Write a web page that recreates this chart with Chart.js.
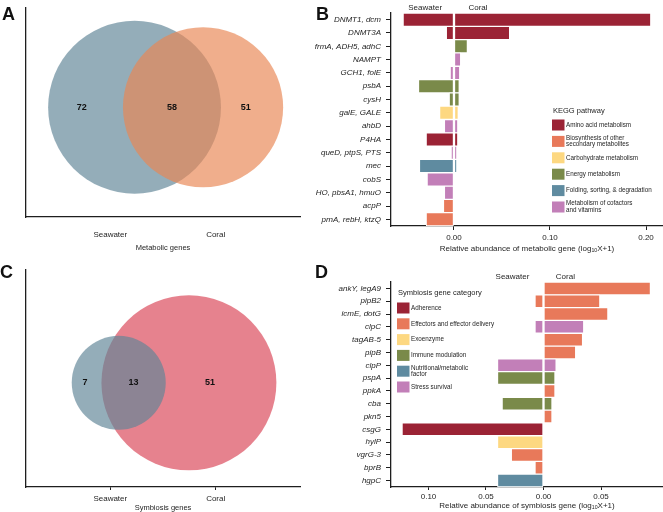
<!DOCTYPE html>
<html lang="en">
<head>
<meta charset="utf-8">
<title>Metabolic and symbiosis genes</title>
<script src="https://cdn.jsdelivr.net/npm/chart.js@4.4.1/dist/chart.umd.min.js"></script>
<style>
  html, body { margin: 0; padding: 0; background: #fff; }
  #figure { position: relative; width: 663px; height: 512px; overflow: hidden; }
  canvas { position: absolute; }
  .lettre { position: absolute; font: bold 18px "Liberation Sans", Arial, sans-serif; line-height: 18px; color: #111; }
</style>
</head>
<body>
<div id="figure">
  <canvas id="vennA" width="330" height="256" style="left:0;top:0"></canvas>
  <canvas id="vennC" width="330" height="262" style="left:0;top:250px"></canvas>
  <canvas id="barresB" width="363" height="256" style="left:300px;top:0"></canvas>
  <canvas id="barresD" width="363" height="262" style="left:300px;top:250px"></canvas>
  <div class="lettre" style="left:2px;top:5px">A</div>
  <div class="lettre" style="left:316px;top:5px">B</div>
  <div class="lettre" style="left:0px;top:263px">C</div>
  <div class="lettre" style="left:315px;top:263px">D</div>
</div>
<script>
// === DONNÉES ===
const groupes = ['Seawater', 'Coral'];

// Venn : seawater seul, commun, coral seul
const comptesA = [72, 58, 51];
const comptesC = [7, 13, 51];

// cercles en unités d'axe (Seawater = 1, Coral = 2)
const cerclesA = [
  { x: 1.23, y: 1.05, rayon: 0.82 },   // Seawater
  { x: 1.88, y: 1.05, rayon: 0.76 }    // Coral
];
const cerclesC = [
  { x: 1.08, y: 0.96, rayon: 0.446 },  // Seawater
  { x: 1.746, y: 0.96, rayon: 0.83 }   // Coral
];

// Panneau B : gènes métaboliques
const genesB = ['DNMT1, dcm', 'DNMT3A', 'frmA, ADH5, adhC', 'NAMPT', 'GCH1, folE', 'psbA', 'cysH',
  'galE, GALE', 'ahbD', 'P4HA', 'queD, ptpS, PTS', 'mec', 'cobS', 'HO, pbsA1, hmuO', 'acpP', 'prnA, rebH, ktzQ'];
const voieB = [0, 0, 3, 5, 5, 3, 3, 2, 5, 0, 5, 4, 5, 5, 1, 1];
const seawaterB = [0.053, 0.008, 0, 0, 0.004, 0.037, 0.005, 0.015, 0.010, 0.029, 0.003, 0.036, 0.028, 0.010, 0.011, 0.029];
const coralB = [0.205, 0.058, 0.014, 0.007, 0.006, 0.0055, 0.0055, 0.0045, 0.004, 0.004, 0.003, 0.003, 0, 0, 0, 0];
const voiesKegg = ['Amino acid metabolism', ['Biosynthesis of other', 'secondary metabolites'],
  'Carbohydrate metabolism', 'Energy metabolism', 'Folding, sorting, & degradation',
  ['Metabolism of cofactors', 'and vitamins']];

// Panneau D : gènes de symbiose
const genesD = ['ankY, legA9', 'pipB2', 'icmE, dotG', 'clpC', 'tagAB-5', 'pipB', 'clpP', 'pspA', 'ppkA',
  'cba', 'pkn5', 'csgG', 'hylP', 'vgrG-3', 'bprB', 'hgpC'];
const categorieD = [1, 1, 1, 5, 1, 1, 5, 3, 1, 3, 1, 0, 2, 1, 1, 4];
const seawaterD = [0, 0.0074, 0, 0.0074, 0, 0, 0.040, 0.040, 0, 0.036, 0, 0.123, 0.040, 0.028, 0.0074, 0.040];
const coralD = [0.093, 0.049, 0.056, 0.035, 0.034, 0.028, 0.011, 0.010, 0.010, 0.0074, 0.0074, 0, 0, 0, 0, 0];
const categoriesSymbiose = ['Adherence', 'Effectors and effector delivery', 'Exoenzyme', 'Immune modulation',
  ['Nutritional/metabolic', 'factor'], 'Stress survival'];

// === STYLES ===
const couleursCat = ['#9b2335', '#e8795a', '#fdd881', '#7a8a4a', '#5f8ba0', '#c27fb8'];
const couleursVennA = ['rgba(95,133,151,0.67)', 'rgba(233,134,83,0.67)'];
const couleursVennC = ['rgba(95,133,151,0.67)', 'rgba(218,68,86,0.67)'];
const police = '"Liberation Sans", Arial, sans-serif';
const encre = '#1e1e1e';

Chart.defaults.font.family = police;
Chart.defaults.color = encre;
Chart.defaults.animation = false;

// rayon du cercle converti en pixels par l'échelle x
function rayonPixels(ctx) {
  const echelle = ctx.chart && ctx.chart.scales ? ctx.chart.scales.x : null;
  const ds = ctx.dataset;
  const p = ds && ds.data ? ds.data[ctx.dataIndex] : null;
  if (!p || !echelle) return 0;
  const r = Math.abs(echelle.getPixelForValue(p.x + p.rayon) - echelle.getPixelForValue(p.x));
  return Number.isFinite(r) ? r : 0;
}

// titre d'axe avec indice
function pluginTitre(morceaux, dy, taille) {
  return {
    id: 'titreX',
    afterDraw(chart) {
      const { ctx, chartArea } = chart;
      ctx.save();
      ctx.fillStyle = encre;
      ctx.textBaseline = 'middle';
      ctx.textAlign = 'left';
      const fN = `${taille}px ${police}`, fS = `${taille * 0.65}px ${police}`;
      let total = 0;
      morceaux.forEach(m => { ctx.font = m.sub ? fS : fN; total += ctx.measureText(m.t).width; });
      let xx = (chartArea.left + chartArea.right) / 2 - total / 2;
      const yy = chartArea.bottom + dy;
      morceaux.forEach(m => {
        ctx.font = m.sub ? fS : fN;
        ctx.fillText(m.t, xx, m.sub ? yy + 2 : yy);
        xx += ctx.measureText(m.t).width;
      });
      ctx.restore();
    }
  };
}

// étiquettes des comptes dans le Venn (placées entre les bords des cercles)
function pluginComptes(cercles, comptes) {
  return {
    id: 'comptes',
    afterDatasetsDraw(chart) {
      const { ctx, scales: { x, y } } = chart;
      const [s, c] = cercles;
      const posX = [
        0.55 * (s.x - s.rayon) + 0.45 * (c.x - c.rayon),
        (c.x - c.rayon + s.x + s.rayon) / 2,
        0.6 * (s.x + s.rayon) + 0.4 * (c.x + c.rayon)
      ];
      ctx.save();
      ctx.font = `bold 9px ${police}`;
      ctx.fillStyle = '#111';
      ctx.textAlign = 'center';
      ctx.textBaseline = 'middle';
      comptes.forEach((n, i) => ctx.fillText(String(n), x.getPixelForValue(posX[i]), y.getPixelForValue(s.y)));
      ctx.restore();
    }
  };
}

function creerVenn(idCanvas, cercles, couleurs, ordres, comptes, titre, reglages) {
  const ctx = document.getElementById(idCanvas).getContext('2d');
  return new Chart(ctx, {
    type: 'scatter',
    data: {
      datasets: cercles.map((c, i) => ({
        label: groupes[i],
        data: [{ x: c.x, y: c.y, rayon: c.rayon }],
        backgroundColor: couleurs[i],
        pointBackgroundColor: couleurs[i],
        pointBorderWidth: 0,
        pointRadius: rayonPixels,
        pointHoverRadius: rayonPixels,
        order: ordres[i]
      }))
    },
    options: {
      responsive: false,
      events: [],
      clip: false,
      layout: { padding: { left: 26, right: 30, top: reglages.haut, bottom: 0 } },
      plugins: { legend: { display: false }, tooltip: { enabled: false } },
      scales: {
        x: {
          type: 'linear', min: 0.2, max: 2.8,
          afterBuildTicks: s => { s.ticks = [1, 2].map(v => ({ value: v })); },
          afterFit: s => { s.height = reglages.hautX; },
          ticks: { callback: v => groupes[v - 1], font: { size: 8 }, padding: reglages.padX, maxRotation: 0 },
          grid: { drawOnChartArea: false, drawTicks: reglages.traits > 0, tickLength: reglages.traits, tickColor: encre },
          border: { color: encre, width: 1.3 }
        },
        y: {
          type: 'linear', min: 0, max: 2,
          afterFit: s => { s.width = 0; },
          ticks: { display: false },
          grid: { display: false, drawTicks: false },
          border: { color: encre, width: 1.3 }
        }
      }
    },
    plugins: [pluginComptes(cercles, comptes), pluginTitre([{ t: titre }], reglages.dyTitre, 7.5)]
  });
}

// légende des catégories
function pluginLegende(titre, items, x, yTitre, y0, pas) {
  return {
    id: 'legendeCat',
    afterDraw(chart) {
      const ctx = chart.ctx;
      ctx.save();
      ctx.textBaseline = 'middle';
      ctx.textAlign = 'left';
      ctx.fillStyle = encre;
      ctx.font = `7.5px ${police}`;
      ctx.fillText(titre, x + 1, yTitre);
      items.forEach((lab, i) => {
        const yc = y0 + i * pas;
        ctx.fillStyle = couleursCat[i];
        ctx.fillRect(x, yc - 5.5, 12.5, 11);
        ctx.fillStyle = encre;
        ctx.font = `6.3px ${police}`;
        const lignes = Array.isArray(lab) ? lab : [lab];
        lignes.forEach((l, j) => ctx.fillText(l, x + 14, yc + (j - (lignes.length - 1) / 2) * 6.6));
      });
      ctx.restore();
    }
  };
}

// en-têtes Seawater / Coral
function pluginEntetes(positions, y) {
  return {
    id: 'entetes',
    afterDraw(chart) {
      const { ctx, scales: { x } } = chart;
      ctx.save();
      ctx.fillStyle = encre;
      ctx.font = `8px ${police}`;
      ctx.textAlign = 'center';
      ctx.textBaseline = 'middle';
      groupes.forEach((g, i) => ctx.fillText(g, x.getPixelForValue(positions[i]), y));
      ctx.restore();
    }
  };
}

function creerBarres(idCanvas, genes, cats, valSeawater, valCoral, reglages, extras) {
  const couleurs = cats.map(c => couleursCat[c]);
  const ctx = document.getElementById(idCanvas).getContext('2d');
  const styleBarre = { barPercentage: 1, categoryPercentage: 1, borderColor: '#fff', borderWidth: 1, borderSkipped: false };
  return new Chart(ctx, {
    type: 'bar',
    data: {
      labels: genes,
      datasets: [
        { label: groupes[0], data: valSeawater.map(v => v ? -v : null), backgroundColor: couleurs, ...styleBarre },
        { label: groupes[1], data: valCoral.map(v => v ? v : null), backgroundColor: couleurs, ...styleBarre }
      ]
    },
    options: {
      indexAxis: 'y',
      responsive: false,
      events: [],
      layout: { padding: { top: reglages.haut, left: 0, right: 0, bottom: 0 } },
      plugins: { legend: { display: false }, tooltip: { enabled: false } },
      scales: {
        x: {
          stacked: true, min: reglages.min, max: reglages.max,
          afterBuildTicks: s => { s.ticks = reglages.ticks.map(v => ({ value: v })); },
          afterFit: s => { s.height = reglages.hautX; },
          ticks: { callback: v => Math.abs(v).toFixed(2), font: { size: 8 }, padding: reglages.padX, maxRotation: 0, autoSkip: false },
          grid: { drawOnChartArea: false, tickLength: reglages.traitX, tickColor: encre },
          border: { color: encre, width: 1.3 }
        },
        y: {
          stacked: true,
          afterFit: s => { s.width = 91; },
          ticks: { font: { size: 8, style: 'italic' }, padding: 5, autoSkip: false },
          grid: { drawOnChartArea: false, offset: false, tickLength: 5, tickColor: encre },
          border: { color: encre, width: 1.3 }
        }
      }
    },
    plugins: extras
  });
}

function titreLog(mot) {
  return [{ t: `Relative abundance of ${mot} gene (log` }, { t: '10', sub: true }, { t: 'X+1)' }];
}

// === CRÉER LES 4 PANNEAUX ===
creerVenn('vennA', cerclesA, couleursVennA, [1, 0], comptesA, 'Metabolic genes',
  { haut: 8, hautX: 39, padX: 13, traits: 0, dyTitre: 31 });
creerVenn('vennC', cerclesC, couleursVennC, [0, 1], comptesC, 'Symbiosis genes',
  { haut: 20, hautX: 25, padX: 4, traits: 3, dyTitre: 21 });

creerBarres('barresB', genesB, voieB, seawaterB, coralB,
  { haut: 13, hautX: 30, min: -0.0656, max: 0.2177, ticks: [0, 0.1, 0.2], padX: 3, traitX: 4 },
  [pluginTitre(titreLog('metabolic'), 23, 8),
   pluginEntetes([-0.030, 0.025], 8),
   pluginLegende('KEGG pathway', voiesKegg, 252, 111, 125, 16.4)]);

creerBarres('barresD', genesD, categorieD, seawaterD, coralD,
  { haut: 32, hautX: 25, min: -0.1326, max: 0.1039, ticks: [-0.1, -0.05, 0, 0.05], padX: 2, traitX: 3 },
  [pluginTitre(titreLog('symbiosis'), 19, 8),
   pluginEntetes([-0.027, 0.019], 27),
   pluginLegende('Symbiosis gene category', categoriesSymbiose, 97, 43, 58, 15.8)]);
</script>
</body>
</html>
